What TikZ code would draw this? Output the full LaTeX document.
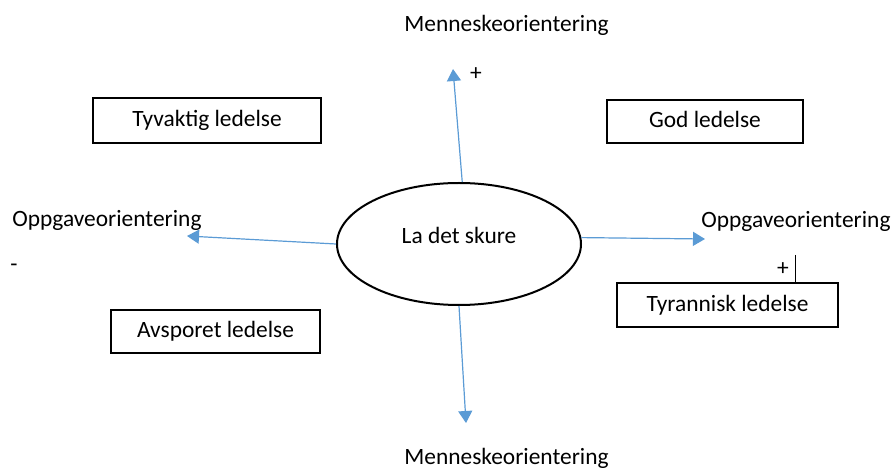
\documentclass[tikz,border=0pt]{standalone}
\usepackage{fontspec}
\setmainfont{Carlito}
\usepackage{tikz}
\usetikzlibrary{arrows.meta,positioning,shapes.geometric}
\definecolor{axisblue}{RGB}{91,155,213}

\begin{document}
\begin{tikzpicture}[
    x=0.5pt, y=-0.5pt,
    font=\fontsize{11.7}{14}\selectfont,
    box/.style={draw, line width=1pt, inner sep=0pt, align=center, text height=8.6pt, text depth=2.2pt},
    oval/.style={ellipse, draw, line width=1pt, inner sep=0pt, minimum width=122pt, minimum height=61pt},
    axis/.style={draw=axisblue, line width=0.6pt, -{Triangle[length=6pt,width=7pt]}},
    lbl/.style={anchor=base west, inner sep=0pt},
    sgn/.style={inner sep=0pt}
]
\useasboundingbox (0,0) rectangle (895,470);

% centre
\node[oval] (sk) at (459,244) {};
\node[anchor=base, inner sep=0pt] (sktxt) at (sk.center) {La det skure};

% axis ends
\coordinate (up) at (453,69);
\coordinate (dn) at (466,423);
\coordinate (lt) at (187,236);
\coordinate (rt) at (705,239);

\draw[axis] (sk.87) -- (up);
\draw[axis] (sk.south) -- (dn);
\draw[axis] (sk.west) -- (lt);
\draw[axis] (sk.3) -- (rt);

% axis labels
\node[lbl] (mtop) at (404,32) {Menneskeorientering};
\node[lbl] (mbot) at (404,465) {Menneskeorientering};
\node[lbl] (oleft) at (12,227) {Oppgaveorientering};
\node[lbl] (oright) at (701,228) {Oppgaveorientering};
\node[sgn] (ptop) at (476,74) {+};
\node[sgn] (pright) at (783,269) {+};
\node[sgn] (mleft) at (14,268) {-};

% quadrants
\node[box, minimum width=114pt, minimum height=22.5pt] (tyv) at (207,120.5) {Tyvaktig ledelse};
\node[box, minimum width=98pt, minimum height=21.5pt] (god) at (705,121.5) {God ledelse};
\node[box, minimum width=110.5pt, minimum height=22pt] (tyr) at (727.5,305) {Tyrannisk ledelse};
\node[box, minimum width=104.5pt, minimum height=21.5pt] (avs) at (215.5,331.5) {Avsporet ledelse};

% cursor mark
\coordinate (cur) at (795,255);
\draw[line width=0.5pt] (cur) -- (cur |- tyr.north);
\end{tikzpicture}
\end{document}
